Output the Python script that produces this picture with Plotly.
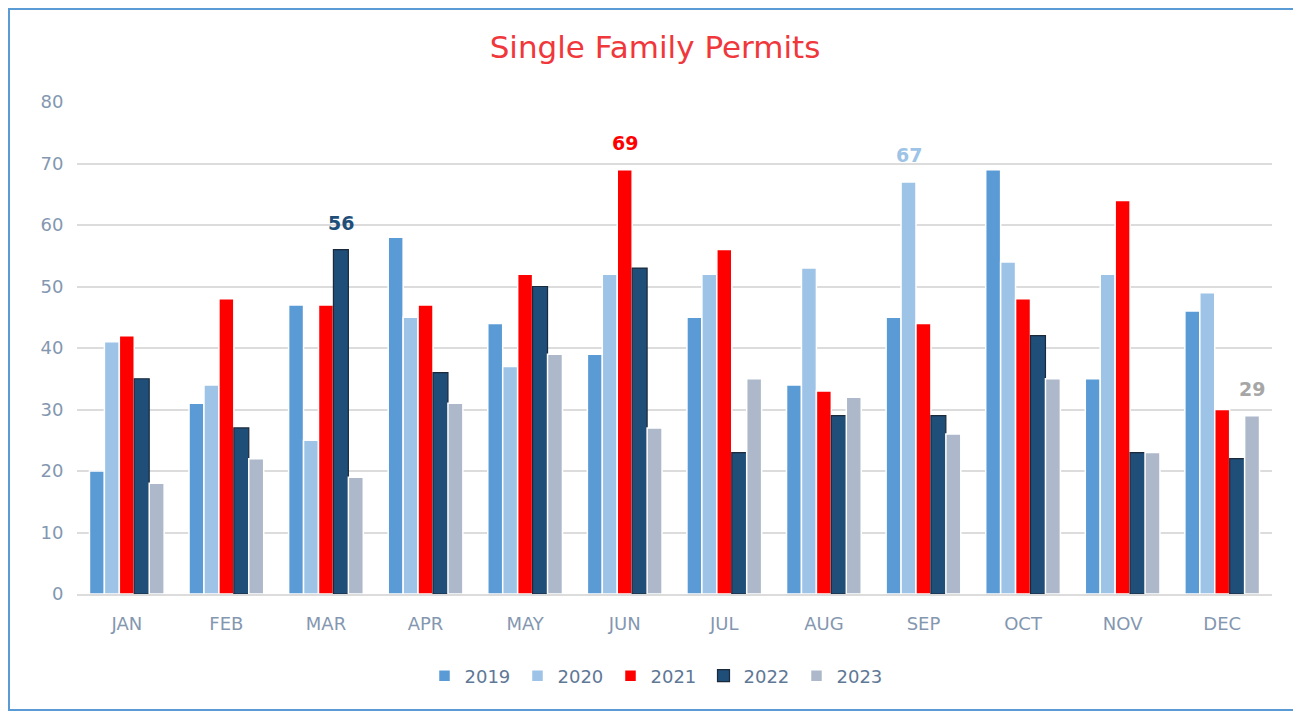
import plotly.graph_objects as go

months = ["JAN", "FEB", "MAR", "APR", "MAY", "JUN", "JUL", "AUG", "SEP", "OCT", "NOV", "DEC"]
years = ["2019", "2020", "2021", "2022", "2023"]
v2019 = [20, 31, 47, 58, 44, 39, 45, 34, 45, 69, 35, 46]
v2020 = [41, 34, 25, 45, 37, 52, 52, 53, 67, 54, 52, 49]
v2021 = [42, 48, 47, 47, 52, 69, 56, 33, 44, 48, 64, 30]
v2022 = [35, 27, 56, 36, 50, 53, 23, 29, 29, 42, 23, 22]
v2023 = [18, 22, 19, 31, 39, 27, 35, 32, 26, 35, 23, 29]
series = [v2019, v2020, v2021, v2022, v2023]
# highlighted labels: series index -> month
highlights = {1: "SEP", 2: "JUN", 3: "MAR", 4: "DEC"}

colors = ["#5B9BD5", "#9DC3E6", "#FF0000", "#1F4E79", "#ADB9CA"]
label_colors = ["#5B9BD5", "#9DC3E6", "#FF0000", "#1F4E79", "#A6A6A6"]
FONT = "DejaVu Sans"

W, H = 1293, 705
L, R, T, B = 69, 29, 94, 119
PW, PH = W - L - R, H - T - B
BARGAP = 0.25

fig = go.Figure()
for i, (yr, vals) in enumerate(zip(years, series)):
    line = dict(color="#1B2A3A", width=1.2) if yr == "2022" else dict(color="white", width=1.5)
    fig.add_trace(go.Bar(
        x=months, y=vals, name=yr,
        marker=dict(color=colors[i], line=line),
    ))

slot = PW / len(months) * (1 - BARGAP) / len(series)
for i, m in highlights.items():
    j = months.index(m)
    v = series[i][j]
    fig.add_annotation(x=m, y=v, text=str(v), showarrow=False,
                       xshift=(i - (len(series) - 1) / 2) * slot, yshift=27, yanchor="middle",
                       font=dict(family=FONT, size=19, color=label_colors[i], weight="bold"))

fig.update_layout(
    width=W, height=H,
    margin=dict(l=L, r=R, t=T, b=B),
    paper_bgcolor="white", plot_bgcolor="white",
    barmode="group", bargap=BARGAP, bargroupgap=0,
    font=dict(family=FONT, color="#8497B0", size=17),
    title=dict(text="Single Family Permits", x=647 / W, xanchor="center", y=1 - 39 / H, yanchor="middle",
               font=dict(family=FONT, size=31, color="#F0373B")),
    legend=dict(orientation="h", x=(649 - L) / PW, xanchor="center", y=(586 - 668) / PH, yanchor="middle",
                font=dict(family=FONT, size=18, color="#5F7896"), itemwidth=30, traceorder="normal",
                entrywidth=48, entrywidthmode="pixels"),
    showlegend=True,
)
fig.update_yaxes(range=[0, 80], dtick=10, showgrid=True, gridcolor="#DCDCDC", gridwidth=1.5,
                 zeroline=False, showline=False, ticks="outside", ticklen=9, tickcolor="white",
                 tickfont=dict(family=FONT, size=18, color="#8497B0"))
fig.update_xaxes(showline=True, linecolor="#DCDCDC", linewidth=1.5, ticks="outside", ticklen=13,
                 tickcolor="white", tickfont=dict(family=FONT, size=18, color="#8497B0"))

fig.add_shape(type="rect", xref="paper", yref="paper",
              x0=(1 - L) / PW, x1=(1289 - L) / PW,
              y0=(586 - 702) / PH, y1=(586 - 1) / PH,
              line=dict(color="#5B9BD5", width=2), fillcolor="rgba(0,0,0,0)", layer="below")

fig.write_html("out.html")
